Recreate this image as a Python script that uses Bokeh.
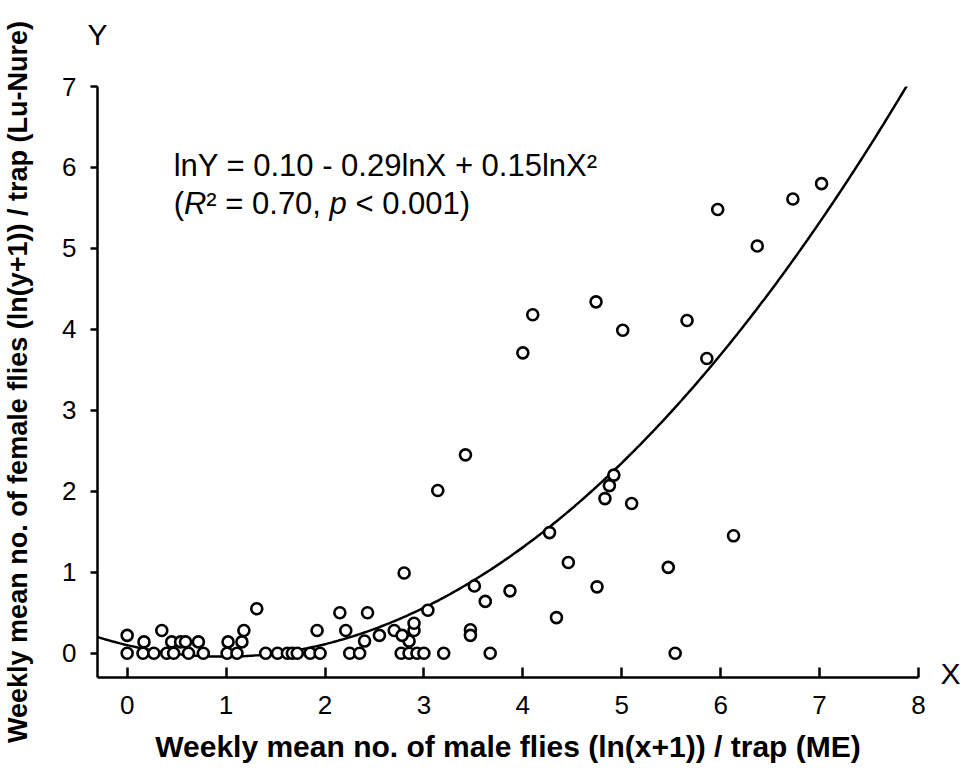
import numpy as np
from bokeh.plotting import figure
from bokeh.models import Label, Range1d, ColumnDataSource, FixedTicker, LinearAxis
from bokeh.embed import file_html
from bokeh.resources import INLINE

# ---- data ----
x_male = [0.0, 0.16, 0.27, 0.40, 0.47, 0.62, 0.77, 1.01, 1.11, 1.40, 1.52, 1.62, 1.67, 1.72,
          1.85, 1.95, 2.25, 2.35, 2.77, 2.85, 2.93, 3.00, 3.20, 3.67, 5.54,
          0.17, 0.45, 0.54, 0.59, 0.72, 1.02, 1.16, 2.40, 2.85,
          0.0, 0.35, 1.18, 1.92, 2.21, 2.55, 2.70, 2.78, 2.90, 2.90, 3.47, 3.47,
          1.31, 2.15, 2.43, 3.04, 2.80,
          3.14, 3.42, 3.51, 3.62, 3.87, 4.00, 4.10, 4.27, 4.34, 4.46, 4.74, 4.75,
          4.83, 4.875, 4.92, 5.01, 5.10, 5.47, 5.66, 5.86, 5.97, 6.13, 6.37, 6.73, 7.02]
y_female = [0.0, 0.0, 0.0, 0.0, 0.0, 0.0, 0.0, 0.0, 0.0, 0.0, 0.0, 0.0, 0.0, 0.0,
            0.0, 0.0, 0.0, 0.0, 0.0, 0.0, 0.0, 0.0, 0.0, 0.0, 0.0,
            0.14, 0.14, 0.14, 0.14, 0.14, 0.14, 0.14, 0.15, 0.15,
            0.22, 0.28, 0.28, 0.28, 0.28, 0.22, 0.28, 0.22, 0.28, 0.37, 0.29, 0.22,
            0.55, 0.50, 0.50, 0.53, 0.99,
            2.01, 2.45, 0.83, 0.64, 0.77, 3.71, 4.18, 1.49, 0.44, 1.12, 4.34, 0.82,
            1.91, 2.07, 2.20, 3.99, 1.85, 1.06, 4.11, 3.64, 5.48, 1.45, 5.03, 5.61, 5.80]

# fitted curve coefficients (printed equation; unrounded quadratic term estimated from the drawn curve)
b0, b1, b2 = 0.10, -0.29, 0.148
x_ticks = [0, 1, 2, 3, 4, 5, 6, 7, 8]
y_ticks = [0, 1, 2, 3, 4, 5, 6, 7]
x_title = "Weekly mean no. of male flies (ln(x+1)) / trap (ME)"
y_title = "Weekly mean no. of female flies (ln(y+1)) / trap (Lu-Nure)"
x_letter, y_letter = "X", "Y"

FONT = "Liberation Sans"

p = figure(width=963, height=774, x_range=Range1d(-0.3, 8), y_range=Range1d(-0.3, 7),
           output_backend="svg", toolbar_location=None,
           min_border_left=97, min_border_right=45, min_border_top=86, min_border_bottom=97)
p.xgrid.visible = False
p.ygrid.visible = False
p.outline_line_color = None
p.background_fill_color = "white"
p.border_fill_color = "white"

for ax in (p.xaxis[0], p.yaxis[0]):
    ax.axis_line_width = 2.5
    ax.axis_line_color = "black"
    ax.major_tick_line_width = 2.5
    ax.major_tick_line_color = "black"
    ax.minor_tick_line_color = None
    ax.major_label_text_font = FONT
    ax.major_label_text_font_size = "26px"
    ax.major_label_text_color = "black"
    ax.axis_label_text_font = FONT
    ax.axis_label_text_font_style = "bold"
    ax.axis_label_text_color = "black"

p.xaxis.ticker = FixedTicker(ticks=x_ticks)
p.yaxis.ticker = FixedTicker(ticks=y_ticks)
p.xaxis.major_tick_in = 10
p.xaxis.major_tick_out = 0
p.xaxis.major_label_standoff = 18
p.xaxis.axis_label = x_title
p.xaxis.axis_label_standoff = 13
p.xaxis.axis_label_text_font_size = "30px"
p.yaxis.major_tick_in = 0
p.yaxis.major_tick_out = 7
p.yaxis.major_label_standoff = 14
p.yaxis.axis_label = y_title
p.yaxis.axis_label_standoff = 26
p.yaxis.axis_label_text_font_size = "27px"

# "X" and "Y" letters at the axis ends, drawn as label-only axes
def letter_axis(side, tick, text, standoff):
    ax = LinearAxis(ticker=FixedTicker(ticks=[tick]), major_label_overrides={tick: text},
                    axis_line_color=None, major_tick_line_color=None, minor_tick_line_color=None,
                    major_tick_in=0, major_tick_out=0, major_label_standoff=standoff,
                    major_label_text_font=FONT, major_label_text_font_size="30px",
                    major_label_text_color="black")
    p.add_layout(ax, side)

letter_axis("right", -0.25, x_letter, 22)
letter_axis("above", -0.3, y_letter, 36)

# fitted curve
xc = np.linspace(-0.3, 8, 400)
yc = b0 + b1 * xc + b2 * xc ** 2
p.line(xc, yc, line_color="black", line_width=2.5)

src = ColumnDataSource(dict(x=x_male, y=y_female))
p.scatter("x", "y", source=src, marker="circle", size=11, fill_color="white",
          line_color="black", line_width=2.6)

# equation text
fs = 31
def lab(txt, dx, y, style="normal"):
    p.add_layout(Label(x=0.47, y=y, x_offset=dx, text=txt, text_font=FONT,
                       text_font_size=f"{fs}px", text_font_style=style, text_align="left",
                       text_baseline="middle", text_color="black"))

lab("lnY = 0.10 - 0.29lnX + 0.15lnX\u00b2", 0, 6.02)
o = 0
lab("(", o, 5.55); o += 0.333 * fs
lab("R", o, 5.55, "italic"); o += 0.722 * fs
lab("\u00b2 = 0.70,", o, 5.55); o += 3.975 * fs
lab("p", o, 5.55, "italic"); o += (0.556 + 0.278) * fs
lab("< 0.001)", o, 5.55)

open("out.html", "w").write(file_html(p, INLINE))
